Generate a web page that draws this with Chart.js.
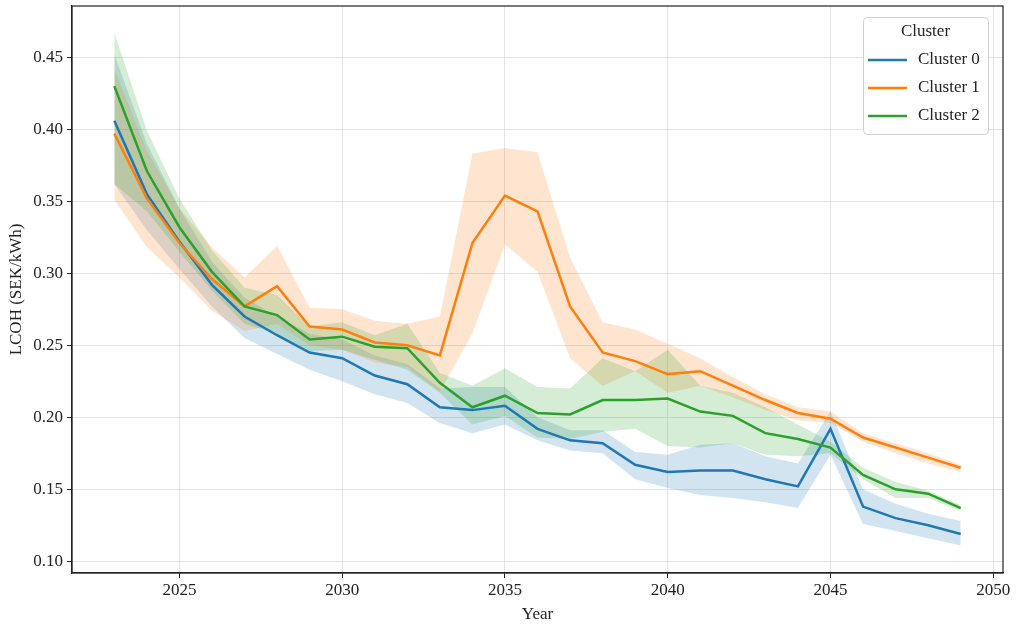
<!DOCTYPE html>
<html>
<head>
<meta charset="utf-8">
<script src="https://cdn.jsdelivr.net/npm/chart.js@4.4.1/dist/chart.umd.min.js"></script>
<style>
  html, body { margin: 0; padding: 0; background: #fff; }
  #wrap { width: 1017px; height: 625px; }
</style>
</head>
<body>
<div id="wrap"><canvas id="lcoh"></canvas></div>
<script>
const years = [2023, 2024, 2025, 2026, 2027, 2028, 2029, 2030, 2031, 2032, 2033, 2034, 2035,
  2036, 2037, 2038, 2039, 2040, 2041, 2042, 2043, 2044, 2045, 2046, 2047, 2048, 2049];

// mean LCOH per cluster
const cluster0 = [0.406, 0.355, 0.322, 0.292, 0.270, 0.257, 0.245, 0.241, 0.229, 0.223, 0.207, 0.205, 0.208,
  0.192, 0.184, 0.182, 0.167, 0.162, 0.163, 0.163, 0.157, 0.152, 0.192, 0.138, 0.130, 0.125, 0.119];
const cluster1 = [0.397, 0.352, 0.321, 0.296, 0.277, 0.291, 0.263, 0.261, 0.252, 0.250, 0.243, 0.321, 0.354,
  0.343, 0.277, 0.245, 0.239, 0.230, 0.232, 0.222, 0.212, 0.203, 0.199, 0.186, 0.179, 0.172, 0.165];
const cluster2 = [0.430, 0.371, 0.332, 0.301, 0.277, 0.271, 0.254, 0.256, 0.249, 0.248, 0.224, 0.207, 0.215,
  0.203, 0.202, 0.212, 0.212, 0.213, 0.204, 0.201, 0.189, 0.185, 0.179, 0.160, 0.150, 0.147, 0.137];

// confidence interval bounds
const cluster0Hi = [0.452, 0.390, 0.345, 0.308, 0.283, 0.270, 0.258, 0.254, 0.243, 0.237, 0.220, 0.221, 0.221,
  0.200, 0.191, 0.191, 0.176, 0.174, 0.181, 0.182, 0.173, 0.168, 0.204, 0.150, 0.140, 0.133, 0.128];
const cluster0Lo = [0.362, 0.330, 0.303, 0.277, 0.255, 0.244, 0.233, 0.225, 0.216, 0.210, 0.196, 0.189, 0.195,
  0.184, 0.177, 0.175, 0.157, 0.151, 0.146, 0.144, 0.141, 0.137, 0.174, 0.126, 0.121, 0.116, 0.111];
const cluster1Hi = [0.442, 0.385, 0.345, 0.318, 0.297, 0.319, 0.276, 0.275, 0.267, 0.265, 0.270, 0.383, 0.387,
  0.384, 0.311, 0.266, 0.261, 0.251, 0.241, 0.228, 0.216, 0.207, 0.204, 0.189, 0.182, 0.175, 0.167];
const cluster1Lo = [0.351, 0.318, 0.297, 0.274, 0.260, 0.265, 0.250, 0.247, 0.238, 0.235, 0.218, 0.258, 0.320,
  0.301, 0.241, 0.222, 0.232, 0.217, 0.222, 0.214, 0.205, 0.198, 0.196, 0.183, 0.175, 0.168, 0.162];
const cluster2Hi = [0.467, 0.399, 0.352, 0.316, 0.290, 0.285, 0.263, 0.266, 0.257, 0.265, 0.231, 0.222, 0.234,
  0.221, 0.220, 0.241, 0.232, 0.247, 0.222, 0.217, 0.207, 0.195, 0.183, 0.165, 0.155, 0.149, 0.139];
const cluster2Lo = [0.362, 0.343, 0.315, 0.288, 0.265, 0.258, 0.246, 0.247, 0.240, 0.233, 0.217, 0.195, 0.201,
  0.186, 0.185, 0.190, 0.192, 0.180, 0.179, 0.182, 0.174, 0.173, 0.175, 0.157, 0.144, 0.144, 0.135];

const xTicks = [2025, 2030, 2035, 2040, 2045, 2050];
const yTicks = [0.10, 0.15, 0.20, 0.25, 0.30, 0.35, 0.40, 0.45];

const clusterNames = ['Cluster 0', 'Cluster 1', 'Cluster 2'];
const colors = ['#1f77b4', '#ff7f0e', '#2ca02c'];
const bandColors = ['rgba(31,119,180,0.2)', 'rgba(255,127,14,0.2)', 'rgba(44,160,44,0.2)'];

const means = [cluster0, cluster1, cluster2];
const highs = [cluster0Hi, cluster1Hi, cluster2Hi];
const lows = [cluster0Lo, cluster1Lo, cluster2Lo];

const pts = arr => years.map((yr, i) => ({ x: yr, y: arr[i] }));

const datasets = [];
for (let c = 0; c < 3; c++) {
  // band: upper bound filled down to the next dataset (lower bound)
  datasets.push({
    label: '', data: pts(highs[c]), borderWidth: 0, pointRadius: 0,
    backgroundColor: bandColors[c], fill: '+1', order: 6 - c
  });
  datasets.push({
    label: '', data: pts(lows[c]), borderWidth: 0, pointRadius: 0,
    fill: false, order: 6 - c
  });
}
for (let c = 0; c < 3; c++) {
  datasets.push({
    label: clusterNames[c], data: pts(means[c]), borderColor: colors[c],
    borderWidth: 2.5, pointRadius: 0, tension: 0, fill: false,
    order: 3 - c, isLine: true
  });
}

const serif = "'Liberation Serif', 'Times New Roman', serif";
Chart.defaults.font.family = serif;
Chart.defaults.font.size = 17;
Chart.defaults.color = '#222';

// black box around the plot
const frame = {
  id: 'frame',
  afterDraw(chart) {
    const { ctx, chartArea: a } = chart;
    ctx.save();
    ctx.strokeStyle = '#222';
    ctx.lineWidth = 1.2;
    ctx.strokeRect(a.left, a.top, a.right - a.left, a.bottom - a.top);
    ctx.restore();
  }
};

// legend in the top right corner
const boxLegend = {
  id: 'boxLegend',
  afterDraw(chart) {
    const ctx = chart.ctx;
    const items = chart.data.datasets.filter(d => d.isLine);
    const x = 863, y = 17, w = 125, h = 117;
    ctx.save();
    ctx.fillStyle = 'rgba(255,255,255,0.85)';
    ctx.strokeStyle = '#d0d0d0';
    ctx.lineWidth = 1;
    ctx.beginPath();
    ctx.roundRect(x + 0.5, y + 0.5, w, h, 4);
    ctx.fill();
    ctx.stroke();
    ctx.fillStyle = '#222';
    ctx.font = '17px ' + serif;
    ctx.textAlign = 'center';
    ctx.textBaseline = 'middle';
    ctx.fillText('Cluster', x + w / 2, y + 15);
    ctx.textAlign = 'left';
    items.forEach((d, i) => {
      const ly = y + 43 + i * 28;
      ctx.strokeStyle = d.borderColor;
      ctx.lineWidth = 2.5;
      ctx.beginPath();
      ctx.moveTo(x + 5, ly);
      ctx.lineTo(x + 44, ly);
      ctx.stroke();
      ctx.fillStyle = '#222';
      ctx.fillText(d.label, x + 55, ly);
    });
    ctx.restore();
  }
};

new Chart(document.getElementById('lcoh'), {
  type: 'line',
  data: { datasets: datasets },
  options: {
    responsive: true,
    maintainAspectRatio: false,
    animation: false,
    layout: { padding: { left: 0, top: 6, right: 14, bottom: 0 } },
    plugins: {
      legend: { display: false },
      tooltip: { enabled: false },
      filler: { propagate: false }
    },
    scales: {
      x: {
        type: 'linear',
        min: 2021.7,
        max: 2050.3,
        afterBuildTicks: s => { s.ticks = xTicks.map(v => ({ value: v })); },
        afterFit: s => { s.height = 52; s.paddingLeft = 0; s.paddingRight = 0; },
        ticks: { padding: 2, maxRotation: 0, callback: v => String(v) },
        grid: { color: '#e4e4e4', lineWidth: 1, tickColor: '#222', tickLength: 5 },
        border: { display: true, color: '#222', width: 1.2 },
        title: { display: true, text: 'Year', padding: { top: 0, bottom: 0 } }
      },
      y: {
        min: 0.0919,
        max: 0.4856,
        afterBuildTicks: s => { s.ticks = yTicks.map(v => ({ value: v })); },
        afterFit: s => { s.width = 72; s.paddingTop = 0; s.paddingBottom = 0; },
        ticks: { padding: 4, callback: v => v.toFixed(2) },
        grid: { color: '#e4e4e4', lineWidth: 1, tickColor: '#222', tickLength: 5 },
        border: { display: true, color: '#222', width: 1.2 },
        title: { display: true, text: 'LCOH (SEK/kWh)', padding: { top: 6, bottom: 0 } }
      }
    }
  },
  plugins: [frame, boxLegend]
});
</script>
</body>
</html>
